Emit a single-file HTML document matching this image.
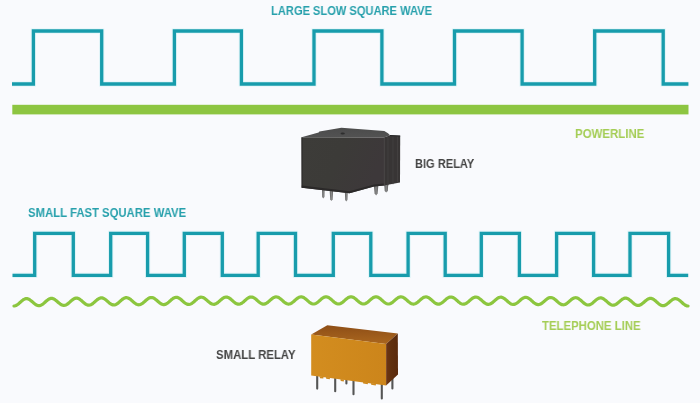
<!DOCTYPE html>
<html><head><meta charset="utf-8"><style>
html,body{margin:0;padding:0;}
body{width:700px;height:403px;overflow:hidden;background:#f9fafd;position:relative;font-family:"Liberation Sans",sans-serif;}
svg{position:absolute;left:0;top:0;}
.t{position:absolute;font-weight:bold;white-space:nowrap;line-height:1;transform-origin:0 0;will-change:transform;}
</style></head><body>
<svg width="700" height="403" viewBox="0 0 700 403">
<path d="M12.0 84.0 L33.4 84.0 L33.4 31.0 L101.7 31.0 L101.7 84.0 L174.4 84.0 L174.4 31.0 L241.4 31.0 L241.4 84.0 L314.0 84.0 L314.0 31.0 L381.9 31.0 L381.9 84.0 L454.5 84.0 L454.5 31.0 L522.1 31.0 L522.1 84.0 L594.7 84.0 L594.7 31.0 L663.2 31.0 L663.2 84.0 L688.4 84.0" fill="none" stroke="#c6f0f4" stroke-width="5.2" stroke-linejoin="miter" opacity="0.5"/>
<path d="M12.0 84.0 L33.4 84.0 L33.4 31.0 L101.7 31.0 L101.7 84.0 L174.4 84.0 L174.4 31.0 L241.4 31.0 L241.4 84.0 L314.0 84.0 L314.0 31.0 L381.9 31.0 L381.9 84.0 L454.5 84.0 L454.5 31.0 L522.1 31.0 L522.1 84.0 L594.7 84.0 L594.7 31.0 L663.2 31.0 L663.2 84.0 L688.4 84.0" fill="none" stroke="#189cac" stroke-width="3.3" stroke-linejoin="miter"/>
<rect x="12.3" y="104.8" width="676.2" height="9.6" fill="#8dc541"/>
<path d="M12.5 275.4 L34.7 275.4 L34.7 233.3 L73.3 233.3 L73.3 275.4 L110.7 275.4 L110.7 233.3 L147.6 233.3 L147.6 275.4 L184.3 275.4 L184.3 233.3 L222.3 233.3 L222.3 275.4 L258.2 275.4 L258.2 233.3 L295.5 233.3 L295.5 275.4 L333.3 275.4 L333.3 233.3 L370.8 233.3 L370.8 275.4 L408.1 275.4 L408.1 233.3 L445.2 233.3 L445.2 275.4 L481.3 275.4 L481.3 233.3 L519.4 233.3 L519.4 275.4 L556.6 275.4 L556.6 233.3 L593.6 233.3 L593.6 275.4 L630.0 275.4 L630.0 233.3 L668.6 233.3 L668.6 275.4 L688.2 275.4" fill="none" stroke="#c6f0f4" stroke-width="5.2" stroke-linejoin="miter" opacity="0.5"/>
<path d="M12.5 275.4 L34.7 275.4 L34.7 233.3 L73.3 233.3 L73.3 275.4 L110.7 275.4 L110.7 233.3 L147.6 233.3 L147.6 275.4 L184.3 275.4 L184.3 233.3 L222.3 233.3 L222.3 275.4 L258.2 275.4 L258.2 233.3 L295.5 233.3 L295.5 275.4 L333.3 275.4 L333.3 233.3 L370.8 233.3 L370.8 275.4 L408.1 275.4 L408.1 233.3 L445.2 233.3 L445.2 275.4 L481.3 275.4 L481.3 233.3 L519.4 233.3 L519.4 275.4 L556.6 275.4 L556.6 233.3 L593.6 233.3 L593.6 275.4 L630.0 275.4 L630.0 233.3 L668.6 233.3 L668.6 275.4 L688.2 275.4" fill="none" stroke="#189cac" stroke-width="3.3" stroke-linejoin="miter"/>
<path d="M14.0 305.98 L15.0 305.85 L16.0 305.51 L17.0 304.96 L18.0 304.25 L19.0 303.42 L20.0 302.52 L21.0 301.61 L22.0 300.74 L23.0 299.97 L24.0 299.34 L25.0 298.90 L26.0 298.66 L27.0 298.66 L28.0 298.87 L29.0 299.30 L30.0 299.91 L31.0 300.67 L32.0 301.52 L33.0 302.41 L34.0 303.29 L35.0 304.09 L36.0 304.77 L37.0 305.28 L38.0 305.60 L39.0 305.69 L40.0 305.56 L41.0 305.21 L42.0 304.66 L43.0 303.95 L44.0 303.11 L45.0 302.21 L46.0 301.30 L47.0 300.43 L48.0 299.67 L49.0 299.05 L50.0 298.61 L51.0 298.39 L52.0 298.39 L53.0 298.62 L54.0 299.05 L55.0 299.67 L56.0 300.43 L57.0 301.29 L58.0 302.18 L59.0 303.05 L60.0 303.85 L61.0 304.53 L62.0 305.04 L63.0 305.34 L64.0 305.43 L65.0 305.29 L66.0 304.93 L67.0 304.38 L68.0 303.66 L69.0 302.82 L70.0 301.92 L71.0 301.01 L72.0 300.15 L73.0 299.39 L74.0 298.77 L75.0 298.35 L76.0 298.13 L77.0 298.14 L78.0 298.38 L79.0 298.83 L80.0 299.45 L81.0 300.22 L82.0 301.07 L83.0 301.97 L84.0 302.84 L85.0 303.64 L86.0 304.31 L87.0 304.81 L88.0 305.11 L89.0 305.19 L90.0 305.04 L91.0 304.68 L92.0 304.12 L93.0 303.39 L94.0 302.56 L95.0 301.66 L96.0 300.75 L97.0 299.89 L98.0 299.13 L99.0 298.52 L100.0 298.11 L101.0 297.90 L102.0 297.92 L103.0 298.17 L104.0 298.62 L105.0 299.25 L106.0 300.02 L107.0 300.88 L108.0 301.78 L109.0 302.65 L110.0 303.44 L111.0 304.11 L112.0 304.61 L113.0 304.90 L114.0 304.97 L115.0 304.82 L116.0 304.45 L117.0 303.88 L118.0 303.15 L119.0 302.31 L120.0 301.41 L121.0 300.50 L122.0 299.65 L123.0 298.90 L124.0 298.30 L125.0 297.89 L126.0 297.69 L127.0 297.72 L128.0 297.97 L129.0 298.44 L130.0 299.07 L131.0 299.85 L132.0 300.71 L133.0 301.61 L134.0 302.48 L135.0 303.27 L136.0 303.94 L137.0 304.43 L138.0 304.71 L139.0 304.78 L140.0 304.61 L141.0 304.23 L142.0 303.66 L143.0 302.93 L144.0 302.09 L145.0 301.19 L146.0 300.28 L147.0 299.43 L148.0 298.68 L149.0 298.09 L150.0 297.69 L151.0 297.50 L152.0 297.54 L153.0 297.81 L154.0 298.27 L155.0 298.92 L156.0 299.70 L157.0 300.57 L158.0 301.46 L159.0 302.33 L160.0 303.12 L161.0 303.78 L162.0 304.26 L163.0 304.54 L164.0 304.60 L165.0 304.43 L166.0 304.04 L167.0 303.47 L168.0 302.73 L169.0 301.89 L170.0 300.98 L171.0 300.08 L172.0 299.23 L173.0 298.49 L174.0 297.91 L175.0 297.52 L176.0 297.34 L177.0 297.39 L178.0 297.66 L179.0 298.14 L180.0 298.79 L181.0 299.57 L182.0 300.44 L183.0 301.34 L184.0 302.21 L185.0 303.00 L186.0 303.65 L187.0 304.13 L188.0 304.40 L189.0 304.45 L190.0 304.27 L191.0 303.88 L192.0 303.29 L193.0 302.55 L194.0 301.71 L195.0 300.80 L196.0 299.90 L197.0 299.06 L198.0 298.32 L199.0 297.75 L200.0 297.36 L201.0 297.19 L202.0 297.25 L203.0 297.53 L204.0 298.02 L205.0 298.68 L206.0 299.47 L207.0 300.34 L208.0 301.24 L209.0 302.11 L210.0 302.89 L211.0 303.54 L212.0 304.01 L213.0 304.27 L214.0 304.31 L215.0 304.13 L216.0 303.73 L217.0 303.14 L218.0 302.40 L219.0 301.55 L220.0 300.65 L221.0 299.75 L222.0 298.91 L223.0 298.18 L224.0 297.61 L225.0 297.23 L226.0 297.07 L227.0 297.14 L228.0 297.43 L229.0 297.92 L230.0 298.59 L231.0 299.38 L232.0 300.26 L233.0 301.16 L234.0 302.02 L235.0 302.80 L236.0 303.45 L237.0 303.91 L238.0 304.17 L239.0 304.20 L240.0 304.01 L241.0 303.60 L242.0 303.01 L243.0 302.26 L244.0 301.41 L245.0 300.51 L246.0 299.61 L247.0 298.78 L248.0 298.05 L249.0 297.49 L250.0 297.12 L251.0 296.97 L252.0 297.05 L253.0 297.35 L254.0 297.85 L255.0 298.52 L256.0 299.32 L257.0 300.20 L258.0 301.10 L259.0 301.97 L260.0 302.74 L261.0 303.38 L262.0 303.84 L263.0 304.09 L264.0 304.11 L265.0 303.91 L266.0 303.50 L267.0 302.90 L268.0 302.15 L269.0 301.30 L270.0 300.39 L271.0 299.50 L272.0 298.67 L273.0 297.95 L274.0 297.40 L275.0 297.04 L276.0 296.90 L277.0 296.98 L278.0 297.29 L279.0 297.80 L280.0 298.48 L281.0 299.28 L282.0 300.16 L283.0 301.06 L284.0 301.93 L285.0 302.70 L286.0 303.33 L287.0 303.78 L288.0 304.03 L289.0 304.05 L290.0 303.84 L291.0 303.42 L292.0 302.81 L293.0 302.06 L294.0 301.20 L295.0 300.30 L296.0 299.41 L297.0 298.58 L298.0 297.87 L299.0 297.33 L300.0 296.97 L301.0 296.84 L302.0 296.94 L303.0 297.25 L304.0 297.77 L305.0 298.45 L306.0 299.26 L307.0 300.15 L308.0 301.05 L309.0 301.91 L310.0 302.68 L311.0 303.31 L312.0 303.75 L313.0 303.99 L314.0 304.00 L315.0 303.79 L316.0 303.36 L317.0 302.75 L318.0 301.99 L319.0 301.13 L320.0 300.23 L321.0 299.34 L322.0 298.52 L323.0 297.81 L324.0 297.27 L325.0 296.93 L326.0 296.81 L327.0 296.91 L328.0 297.24 L329.0 297.76 L330.0 298.45 L331.0 299.27 L332.0 300.15 L333.0 301.06 L334.0 301.92 L335.0 302.68 L336.0 303.30 L337.0 303.74 L338.0 303.97 L339.0 303.98 L340.0 303.75 L341.0 303.32 L342.0 302.71 L343.0 301.94 L344.0 301.08 L345.0 300.18 L346.0 299.29 L347.0 298.48 L348.0 297.78 L349.0 297.25 L350.0 296.91 L351.0 296.80 L352.0 296.91 L353.0 297.25 L354.0 297.78 L355.0 298.48 L356.0 299.29 L357.0 300.18 L358.0 301.08 L359.0 301.94 L360.0 302.71 L361.0 303.32 L362.0 303.76 L363.0 303.98 L364.0 303.97 L365.0 303.74 L366.0 303.31 L367.0 302.68 L368.0 301.92 L369.0 301.06 L370.0 300.16 L371.0 299.27 L372.0 298.46 L373.0 297.76 L374.0 297.24 L375.0 296.92 L376.0 296.81 L377.0 296.93 L378.0 297.28 L379.0 297.82 L380.0 298.52 L381.0 299.34 L382.0 300.23 L383.0 301.14 L384.0 301.99 L385.0 302.75 L386.0 303.36 L387.0 303.79 L388.0 304.00 L389.0 303.99 L390.0 303.76 L391.0 303.31 L392.0 302.68 L393.0 301.91 L394.0 301.05 L395.0 300.15 L396.0 299.27 L397.0 298.46 L398.0 297.77 L399.0 297.26 L400.0 296.94 L401.0 296.85 L402.0 296.98 L403.0 297.33 L404.0 297.88 L405.0 298.59 L406.0 299.41 L407.0 300.31 L408.0 301.21 L409.0 302.06 L410.0 302.82 L411.0 303.42 L412.0 303.84 L413.0 304.05 L414.0 304.03 L415.0 303.79 L416.0 303.34 L417.0 302.70 L418.0 301.93 L419.0 301.07 L420.0 300.17 L421.0 299.29 L422.0 298.48 L423.0 297.80 L424.0 297.30 L425.0 296.99 L426.0 296.90 L427.0 297.04 L428.0 297.40 L429.0 297.96 L430.0 298.67 L431.0 299.51 L432.0 300.40 L433.0 301.30 L434.0 302.16 L435.0 302.91 L436.0 303.51 L437.0 303.92 L438.0 304.12 L439.0 304.09 L440.0 303.84 L441.0 303.38 L442.0 302.75 L443.0 301.97 L444.0 301.11 L445.0 300.21 L446.0 299.33 L447.0 298.53 L448.0 297.86 L449.0 297.36 L450.0 297.06 L451.0 296.98 L452.0 297.13 L453.0 297.50 L454.0 298.06 L455.0 298.78 L456.0 299.62 L457.0 300.52 L458.0 301.42 L459.0 302.27 L460.0 303.02 L461.0 303.61 L462.0 304.02 L463.0 304.21 L464.0 304.18 L465.0 303.92 L466.0 303.45 L467.0 302.81 L468.0 302.03 L469.0 301.17 L470.0 300.27 L471.0 299.39 L472.0 298.60 L473.0 297.93 L474.0 297.44 L475.0 297.15 L476.0 297.08 L477.0 297.24 L478.0 297.62 L479.0 298.19 L480.0 298.92 L481.0 299.76 L482.0 300.65 L483.0 301.56 L484.0 302.41 L485.0 303.15 L486.0 303.74 L487.0 304.14 L488.0 304.32 L489.0 304.28 L490.0 304.02 L491.0 303.55 L492.0 302.90 L493.0 302.12 L494.0 301.25 L495.0 300.35 L496.0 299.48 L497.0 298.69 L498.0 298.03 L499.0 297.54 L500.0 297.26 L501.0 297.20 L502.0 297.37 L503.0 297.76 L504.0 298.34 L505.0 299.07 L506.0 299.91 L507.0 300.81 L508.0 301.72 L509.0 302.56 L510.0 303.30 L511.0 303.89 L512.0 304.28 L513.0 304.46 L514.0 304.41 L515.0 304.14 L516.0 303.66 L517.0 303.01 L518.0 302.22 L519.0 301.35 L520.0 300.45 L521.0 299.58 L522.0 298.80 L523.0 298.15 L524.0 297.67 L525.0 297.40 L526.0 297.35 L527.0 297.53 L528.0 297.92 L529.0 298.51 L530.0 299.25 L531.0 300.09 L532.0 301.00 L533.0 301.90 L534.0 302.74 L535.0 303.48 L536.0 304.06 L537.0 304.44 L538.0 304.61 L539.0 304.56 L540.0 304.28 L541.0 303.79 L542.0 303.14 L543.0 302.35 L544.0 301.48 L545.0 300.58 L546.0 299.71 L547.0 298.93 L548.0 298.29 L549.0 297.82 L550.0 297.56 L551.0 297.52 L552.0 297.70 L553.0 298.11 L554.0 298.70 L555.0 299.44 L556.0 300.30 L557.0 301.20 L558.0 302.10 L559.0 302.95 L560.0 303.68 L561.0 304.25 L562.0 304.63 L563.0 304.79 L564.0 304.73 L565.0 304.44 L566.0 303.95 L567.0 303.29 L568.0 302.50 L569.0 301.62 L570.0 300.73 L571.0 299.87 L572.0 299.09 L573.0 298.45 L574.0 297.99 L575.0 297.74 L576.0 297.71 L577.0 297.90 L578.0 298.31 L579.0 298.91 L580.0 299.66 L581.0 300.52 L582.0 301.43 L583.0 302.33 L584.0 303.17 L585.0 303.89 L586.0 304.46 L587.0 304.83 L588.0 304.99 L589.0 304.92 L590.0 304.62 L591.0 304.13 L592.0 303.46 L593.0 302.67 L594.0 301.79 L595.0 300.90 L596.0 300.04 L597.0 299.27 L598.0 298.64 L599.0 298.18 L600.0 297.94 L601.0 297.92 L602.0 298.12 L603.0 298.54 L604.0 299.15 L605.0 299.91 L606.0 300.76 L607.0 301.67 L608.0 302.58 L609.0 303.41 L610.0 304.13 L611.0 304.70 L612.0 305.06 L613.0 305.21 L614.0 305.13 L615.0 304.83 L616.0 304.33 L617.0 303.66 L618.0 302.86 L619.0 301.99 L620.0 301.09 L621.0 300.23 L622.0 299.47 L623.0 298.84 L624.0 298.40 L625.0 298.16 L626.0 298.15 L627.0 298.37 L628.0 298.79 L629.0 299.41 L630.0 300.17 L631.0 301.03 L632.0 301.94 L633.0 302.84 L634.0 303.68 L635.0 304.40 L636.0 304.95 L637.0 305.31 L638.0 305.45 L639.0 305.36 L640.0 305.06 L641.0 304.55 L642.0 303.87 L643.0 303.07 L644.0 302.20 L645.0 301.31 L646.0 300.45 L647.0 299.69 L648.0 299.07 L649.0 298.64 L650.0 298.41 L651.0 298.41 L652.0 298.63 L653.0 299.07 L654.0 299.69 L655.0 300.46 L656.0 301.32 L657.0 302.23 L658.0 303.13 L659.0 303.97 L660.0 304.68 L661.0 305.23 L662.0 305.58 L663.0 305.71 L664.0 305.62 L665.0 305.31 L666.0 304.79 L667.0 304.11 L668.0 303.31 L669.0 302.43 L670.0 301.54 L671.0 300.69 L672.0 299.94 L673.0 299.33 L674.0 298.90 L675.0 298.68 L676.0 298.69 L677.0 298.92 L678.0 299.36 L679.0 299.99 L680.0 300.76 L681.0 301.63 L682.0 302.55 L683.0 303.45 L684.0 304.28 L685.0 304.99 L686.0 305.53 L687.0 305.87 L688.0 306.00" fill="none" stroke="#8cc63f" stroke-width="3.2" stroke-linecap="round" stroke-linejoin="round"/>

<g>
 <defs>
  <linearGradient id="bf" x1="0" y1="0" x2="1" y2="0.3">
   <stop offset="0" stop-color="#3d3c39"/><stop offset="0.5" stop-color="#3c3b38"/><stop offset="1" stop-color="#3d383a"/>
  </linearGradient>
  <linearGradient id="bt" x1="0" y1="0" x2="0" y2="1">
   <stop offset="0" stop-color="#4c4c4c"/><stop offset="1" stop-color="#525252"/>
  </linearGradient>
  <linearGradient id="pin" x1="0" y1="0" x2="1" y2="0">
   <stop offset="0" stop-color="#5a5a5a"/><stop offset="0.5" stop-color="#8a8a8a"/><stop offset="1" stop-color="#5a5a5a"/>
  </linearGradient>
 </defs>
 <path d="M322 188 L324.6 188 L324.4 197 L323.3 198.5 L322.2 197 Z" fill="url(#pin)"/>
 <path d="M329.6 189 L333.2 189 L332.6 199.5 L331.4 201 L330.2 199.5 Z" fill="url(#pin)"/>
 <path d="M344.8 190 L347.8 190 L347.4 200 L346.3 201.5 L345.2 200 Z" fill="url(#pin)"/>
 <path d="M373.8 185 L378.4 185 L377.6 193.5 L376.1 195.5 L374.6 193.5 Z" fill="url(#pin)"/>
 <path d="M384.2 184 L388.3 184 L387.8 191 L386.2 192.6 L384.7 191 Z" fill="url(#pin)"/>
 <path d="M301.5 137.2 L318.6 132.4 L319.4 131.6 L341.4 127.8 L384.3 131 L388 133.2 L390 135.3 L384 137.6 Z" fill="url(#bt)"/>
 <ellipse cx="342.7" cy="133.6" rx="2.2" ry="1" fill="#2e2e2e"/>
 <path d="M301.5 137.2 L384 137.6 L384 185.6 L374 186.4 L349.5 193.3 L301.8 187.8 Z" fill="url(#bf)"/>
 <path d="M301.8 185.6 L349.5 191.2 L374 184.4 L384 183.6 L384 185.6 L374 186.4 L349.5 193.3 L301.8 187.8 Z" fill="#2b2929"/>
 <path d="M384 137.6 L390 135.3 L400.2 135.8 L400 182.6 L384 185.6 Z" fill="#383535"/>
 <path d="M384.3 137.6 L384.3 185.6" stroke="#4a4848" stroke-width="1"/>
 <path d="M388 137 L388 185.3 M393 136.5 L393 184.2 M397.5 136.4 L397.5 183" stroke="#454343" stroke-width="0.8"/>
 <path d="M390 135.5 L400.2 136" stroke="#262626" stroke-width="1"/>
 <path d="M302 137.4 L302 187.8" stroke="#2a2828" stroke-width="1"/>
</g>

<g>
 <defs>
  <linearGradient id="sf" x1="0" y1="0" x2="1" y2="0">
   <stop offset="0" stop-color="#d38d1f"/><stop offset="1" stop-color="#cc851b"/>
  </linearGradient>
  <linearGradient id="st" x1="0" y1="0" x2="0" y2="1">
   <stop offset="0" stop-color="#8e4e17"/><stop offset="1" stop-color="#aa661e"/>
  </linearGradient>
  <linearGradient id="ss" x1="0" y1="0" x2="1" y2="0">
   <stop offset="0" stop-color="#6e3614"/><stop offset="0.4" stop-color="#60300f"/><stop offset="1" stop-color="#5a2a0d"/>
  </linearGradient>
 </defs>
 <g stroke="#555555" stroke-width="2.1" stroke-linecap="round">
  <path d="M317.2 375 L317.2 388.6"/>
  <path d="M335.2 377 L335.2 391.2"/>
  <path d="M353.5 380 L353.5 394.2"/>
  <path d="M381.8 384 L381.8 398.4"/>
  <path d="M392.4 377 L392.4 388.4"/>
  <path d="M346.4 380 L346.4 383.4"/>
 </g>
 <path d="M311.2 334.5 L327.3 325.2 L397.8 333.6 L386.1 344 Z" fill="url(#st)"/>
 <path d="M311.2 334.5 L386.1 344 L386.1 385.6 L311.2 375.4 Z" fill="url(#sf)"/>
 <path d="M386.1 344 L397.8 333.6 L398 374.6 L386.1 385.6 Z" fill="url(#ss)"/>
 <path d="M319.5 376.2 L323.5 376.7 L323.3 378.6 L320 378.2 Z M326 377 L330 377.5 L329.8 379.2 L326.2 378.8 Z M340.5 379 L344 379.5 L343.8 381.5 L340.7 381 Z M363 381.8 L368 382.5 L367.8 384.2 L363.2 383.6 Z M371 383 L376 383.7 L375.8 385.4 L371.2 384.8 Z" fill="#cf8a1e"/>
</g>
</svg>
<div class="t" style="left:271.12px;top:5.11px;font-size:12.6px;color:#27a0ac;transform:scaleX(0.8826);">LARGE SLOW SQUARE WAVE</div>
<div class="t" style="left:574.60px;top:127.81px;font-size:12.6px;color:#a4cd55;transform:scaleX(0.9097);">POWERLINE</div>
<div class="t" style="left:414.93px;top:158.11px;font-size:12.6px;color:#444444;transform:scaleX(0.8781);">BIG RELAY</div>
<div class="t" style="left:28.26px;top:207.11px;font-size:12.6px;color:#27a0ac;transform:scaleX(0.8993);">SMALL FAST SQUARE WAVE</div>
<div class="t" style="left:541.79px;top:319.51px;font-size:12.6px;color:#a4cd55;transform:scaleX(0.9032);">TELEPHONE LINE</div>
<div class="t" style="left:216.36px;top:348.61px;font-size:12.6px;color:#444444;transform:scaleX(0.9021);">SMALL RELAY</div>
</body></html>
